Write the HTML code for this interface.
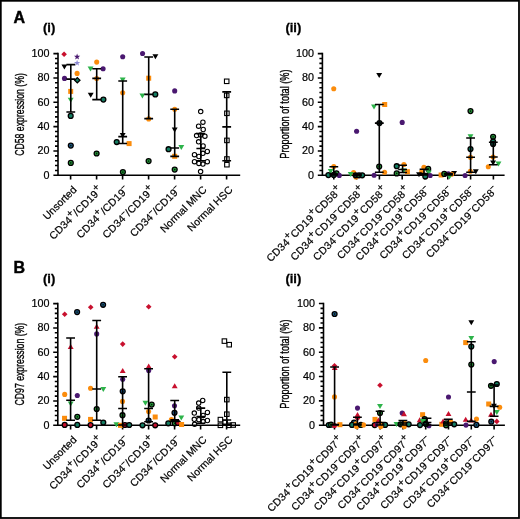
<!DOCTYPE html>
<html><head><meta charset="utf-8"><style>
html,body{margin:0;padding:0;background:#fff;}
svg{display:block;will-change:transform;font-family:"Liberation Sans",sans-serif;}
</style></head><body>
<svg width="520" height="519" viewBox="0 0 520 519" font-family="Liberation Sans, sans-serif">
<rect x="0" y="0" width="520" height="519" fill="#fff"/>
<rect x="0.8" y="0.8" width="518.2" height="517.2" fill="none" stroke="#000" stroke-width="1.8"/>

<text x="13.6" y="22.7" font-size="16" font-weight="bold" stroke="#000" stroke-width="0.45">A</text>
<text x="13.6" y="272.8" font-size="16" font-weight="bold" stroke="#000" stroke-width="0.45">B</text>
<text x="43" y="32.3" font-size="13" font-weight="bold" stroke="#000" stroke-width="0.3">(i)</text>
<text x="43" y="282.8" font-size="13" font-weight="bold" stroke="#000" stroke-width="0.3">(i)</text>
<text x="285.4" y="32.3" font-size="13" font-weight="bold" stroke="#000" stroke-width="0.3">(ii)</text>
<text x="285.4" y="282.8" font-size="13" font-weight="bold" stroke="#000" stroke-width="0.3">(ii)</text>
<path d="M58.00 52.80V175.30H240.20" fill="none" stroke="#000" stroke-width="1.6"/>
<path d="M53.40 175.30H58.00M55.00 170.43H58.00M55.00 165.56H58.00M55.00 160.70H58.00M55.00 155.83H58.00M53.40 150.96H58.00M55.00 146.09H58.00M55.00 141.22H58.00M55.00 136.36H58.00M55.00 131.49H58.00M53.40 126.62H58.00M55.00 121.75H58.00M55.00 116.88H58.00M55.00 112.02H58.00M55.00 107.15H58.00M53.40 102.28H58.00M55.00 97.41H58.00M55.00 92.54H58.00M55.00 87.68H58.00M55.00 82.81H58.00M53.40 77.94H58.00M55.00 73.07H58.00M55.00 68.20H58.00M55.00 63.34H58.00M55.00 58.47H58.00M53.40 53.60H58.00M70.60 175.30V179.60M96.60 175.30V179.60M122.60 175.30V179.60M148.60 175.30V179.60M174.60 175.30V179.60M200.60 175.30V179.60M226.60 175.30V179.60" fill="none" stroke="#000" stroke-width="1.6"/>
<text transform="translate(49.60 178.80) scale(1.08 1)" text-anchor="end" font-size="10" stroke="#000" stroke-width="0.2">0</text>
<text transform="translate(49.60 154.46) scale(1.08 1)" text-anchor="end" font-size="10" stroke="#000" stroke-width="0.2">20</text>
<text transform="translate(49.60 130.12) scale(1.08 1)" text-anchor="end" font-size="10" stroke="#000" stroke-width="0.2">40</text>
<text transform="translate(49.60 105.78) scale(1.08 1)" text-anchor="end" font-size="10" stroke="#000" stroke-width="0.2">60</text>
<text transform="translate(49.60 81.44) scale(1.08 1)" text-anchor="end" font-size="10" stroke="#000" stroke-width="0.2">80</text>
<text transform="translate(49.60 57.10) scale(1.08 1)" text-anchor="end" font-size="10" stroke="#000" stroke-width="0.2">100</text>
<path d="M322.40 52.80V175.30H504.60" fill="none" stroke="#000" stroke-width="1.6"/>
<path d="M317.80 175.30H322.40M319.40 170.43H322.40M319.40 165.56H322.40M319.40 160.70H322.40M319.40 155.83H322.40M317.80 150.96H322.40M319.40 146.09H322.40M319.40 141.22H322.40M319.40 136.36H322.40M319.40 131.49H322.40M317.80 126.62H322.40M319.40 121.75H322.40M319.40 116.88H322.40M319.40 112.02H322.40M319.40 107.15H322.40M317.80 102.28H322.40M319.40 97.41H322.40M319.40 92.54H322.40M319.40 87.68H322.40M319.40 82.81H322.40M317.80 77.94H322.40M319.40 73.07H322.40M319.40 68.20H322.40M319.40 63.34H322.40M319.40 58.47H322.40M317.80 53.60H322.40M333.80 175.30V179.60M356.60 175.30V179.60M379.40 175.30V179.60M402.20 175.30V179.60M425.00 175.30V179.60M447.80 175.30V179.60M470.60 175.30V179.60M493.40 175.30V179.60" fill="none" stroke="#000" stroke-width="1.6"/>
<text transform="translate(314.00 178.80) scale(1.08 1)" text-anchor="end" font-size="10" stroke="#000" stroke-width="0.2">0</text>
<text transform="translate(314.00 154.46) scale(1.08 1)" text-anchor="end" font-size="10" stroke="#000" stroke-width="0.2">20</text>
<text transform="translate(314.00 130.12) scale(1.08 1)" text-anchor="end" font-size="10" stroke="#000" stroke-width="0.2">40</text>
<text transform="translate(314.00 105.78) scale(1.08 1)" text-anchor="end" font-size="10" stroke="#000" stroke-width="0.2">60</text>
<text transform="translate(314.00 81.44) scale(1.08 1)" text-anchor="end" font-size="10" stroke="#000" stroke-width="0.2">80</text>
<text transform="translate(314.00 57.10) scale(1.08 1)" text-anchor="end" font-size="10" stroke="#000" stroke-width="0.2">100</text>
<path d="M57.80 302.80V425.30H240.20" fill="none" stroke="#000" stroke-width="1.6"/>
<path d="M53.20 425.30H57.80M54.80 420.43H57.80M54.80 415.56H57.80M54.80 410.70H57.80M54.80 405.83H57.80M53.20 400.96H57.80M54.80 396.09H57.80M54.80 391.22H57.80M54.80 386.36H57.80M54.80 381.49H57.80M53.20 376.62H57.80M54.80 371.75H57.80M54.80 366.88H57.80M54.80 362.02H57.80M54.80 357.15H57.80M53.20 352.28H57.80M54.80 347.41H57.80M54.80 342.54H57.80M54.80 337.68H57.80M54.80 332.81H57.80M53.20 327.94H57.80M54.80 323.07H57.80M54.80 318.20H57.80M54.80 313.34H57.80M54.80 308.47H57.80M53.20 303.60H57.80M70.60 425.30V429.60M96.60 425.30V429.60M122.60 425.30V429.60M148.60 425.30V429.60M174.60 425.30V429.60M200.60 425.30V429.60M226.60 425.30V429.60" fill="none" stroke="#000" stroke-width="1.6"/>
<text transform="translate(49.40 428.80) scale(1.08 1)" text-anchor="end" font-size="10" stroke="#000" stroke-width="0.2">0</text>
<text transform="translate(49.40 404.46) scale(1.08 1)" text-anchor="end" font-size="10" stroke="#000" stroke-width="0.2">20</text>
<text transform="translate(49.40 380.12) scale(1.08 1)" text-anchor="end" font-size="10" stroke="#000" stroke-width="0.2">40</text>
<text transform="translate(49.40 355.78) scale(1.08 1)" text-anchor="end" font-size="10" stroke="#000" stroke-width="0.2">60</text>
<text transform="translate(49.40 331.44) scale(1.08 1)" text-anchor="end" font-size="10" stroke="#000" stroke-width="0.2">80</text>
<text transform="translate(49.40 307.10) scale(1.08 1)" text-anchor="end" font-size="10" stroke="#000" stroke-width="0.2">100</text>
<path d="M323.50 302.70V425.20H504.90" fill="none" stroke="#000" stroke-width="1.6"/>
<path d="M318.90 425.20H323.50M320.50 420.33H323.50M320.50 415.46H323.50M320.50 410.60H323.50M320.50 405.73H323.50M318.90 400.86H323.50M320.50 395.99H323.50M320.50 391.12H323.50M320.50 386.26H323.50M320.50 381.39H323.50M318.90 376.52H323.50M320.50 371.65H323.50M320.50 366.78H323.50M320.50 361.92H323.50M320.50 357.05H323.50M318.90 352.18H323.50M320.50 347.31H323.50M320.50 342.44H323.50M320.50 337.58H323.50M320.50 332.71H323.50M318.90 327.84H323.50M320.50 322.97H323.50M320.50 318.10H323.50M320.50 313.24H323.50M320.50 308.37H323.50M318.90 303.50H323.50M334.50 425.20V429.50M357.30 425.20V429.50M380.10 425.20V429.50M402.90 425.20V429.50M425.70 425.20V429.50M448.50 425.20V429.50M471.30 425.20V429.50M494.10 425.20V429.50" fill="none" stroke="#000" stroke-width="1.6"/>
<text transform="translate(315.10 428.70) scale(1.08 1)" text-anchor="end" font-size="10" stroke="#000" stroke-width="0.2">0</text>
<text transform="translate(315.10 404.36) scale(1.08 1)" text-anchor="end" font-size="10" stroke="#000" stroke-width="0.2">20</text>
<text transform="translate(315.10 380.02) scale(1.08 1)" text-anchor="end" font-size="10" stroke="#000" stroke-width="0.2">40</text>
<text transform="translate(315.10 355.68) scale(1.08 1)" text-anchor="end" font-size="10" stroke="#000" stroke-width="0.2">60</text>
<text transform="translate(315.10 331.34) scale(1.08 1)" text-anchor="end" font-size="10" stroke="#000" stroke-width="0.2">80</text>
<text transform="translate(315.10 307.00) scale(1.08 1)" text-anchor="end" font-size="10" stroke="#000" stroke-width="0.2">100</text>
<text transform="translate(24.4 155.8) rotate(-90)" font-size="12.5" textLength="82.7" lengthAdjust="spacingAndGlyphs" stroke="#000" stroke-width="0.35">CD58 expression (%)</text>
<text transform="translate(24.4 405.5) rotate(-90)" font-size="12.5" textLength="82.7" lengthAdjust="spacingAndGlyphs" stroke="#000" stroke-width="0.35">CD97 expression (%)</text>
<text transform="translate(288.8 158.7) rotate(-90)" font-size="12.5" textLength="89.2" lengthAdjust="spacingAndGlyphs" stroke="#000" stroke-width="0.35">Proportion of total (%)</text>
<text transform="translate(288.8 408.7) rotate(-90)" font-size="12.5" textLength="89.2" lengthAdjust="spacingAndGlyphs" stroke="#000" stroke-width="0.35">Proportion of total (%)</text>
<polygon points="64.10,51.45 66.90,54.25 64.10,57.05 61.30,54.25" fill="#c8102e"/>
<polygon points="77.10,53.55 77.89,55.76 80.24,55.83 78.38,57.27 79.04,59.52 77.10,58.20 75.16,59.52 75.82,57.27 73.96,55.83 76.31,55.76" fill="#4a1870"/>
<polygon points="77.10,59.70 77.89,61.91 80.24,61.98 78.38,63.42 79.04,65.67 77.10,64.35 75.16,65.67 75.82,63.42 73.96,61.98 76.31,61.91" fill="#8c88d2"/>
<polygon points="61.45,64.60 67.35,64.60 64.40,69.60" fill="#000"/>
<circle cx="77.10" cy="73.40" r="2.55" fill="#fb8c0c"/>
<circle cx="64.50" cy="78.40" r="2.55" fill="#4a1870"/>
<polygon points="77.30,77.59 79.96,80.25 77.30,82.91 74.64,80.25" fill="#147d62" stroke="#000" stroke-width="1.3"/>
<rect x="68.20" y="88.90" width="5.00" height="5.00" fill="#fb8c0c"/>
<polygon points="67.75,97.80 73.65,97.80 70.70,102.80" fill="#2db34a"/>
<circle cx="70.70" cy="115.90" r="2.45" fill="#147d62" stroke="#000" stroke-width="1.3"/>
<circle cx="70.80" cy="145.60" r="2.45" fill="#1d5a92" stroke="#000" stroke-width="1.3"/><circle cx="70.80" cy="145.60" r="0.9" fill="#05200c"/>
<circle cx="70.80" cy="162.90" r="2.45" fill="#27a33c" stroke="#000" stroke-width="1.3"/><circle cx="70.80" cy="162.90" r="0.9" fill="#05200c"/>
<circle cx="96.70" cy="62.10" r="2.55" fill="#fb8c0c"/>
<polygon points="87.60,66.40 93.50,66.40 90.55,71.40" fill="#2db34a"/>
<circle cx="103.10" cy="68.80" r="2.55" fill="#4a1870"/>
<circle cx="96.70" cy="78.50" r="2.55" fill="#fb8c0c"/>
<polygon points="87.75,92.70 93.65,92.70 90.70,97.70" fill="#000"/>
<circle cx="103.40" cy="99.60" r="2.45" fill="#147d62" stroke="#000" stroke-width="1.3"/>
<circle cx="96.60" cy="153.50" r="2.45" fill="#27a33c" stroke="#000" stroke-width="1.3"/><circle cx="96.60" cy="153.50" r="0.9" fill="#05200c"/>
<circle cx="122.70" cy="56.80" r="2.55" fill="#4a1870"/>
<polygon points="119.75,77.60 125.65,77.60 122.70,82.60" fill="#2db34a"/>
<circle cx="122.70" cy="92.80" r="2.55" fill="#fb8c0c"/>
<polygon points="119.75,133.00 125.65,133.00 122.70,138.00" fill="#000"/>
<circle cx="116.70" cy="142.05" r="2.45" fill="#147d62" stroke="#000" stroke-width="1.3"/>
<rect x="126.60" y="141.10" width="5.00" height="5.00" fill="#fb8c0c"/>
<circle cx="122.90" cy="172.10" r="2.45" fill="#27a33c" stroke="#000" stroke-width="1.3"/><circle cx="122.90" cy="172.10" r="0.9" fill="#05200c"/>
<circle cx="142.55" cy="53.55" r="2.55" fill="#4a1870"/>
<polygon points="152.45,54.20 158.35,54.20 155.40,59.20" fill="#000"/>
<rect x="146.20" y="75.70" width="5.00" height="5.00" fill="#fb8c0c"/>
<polygon points="139.45,93.40 145.35,93.40 142.40,98.40" fill="#2db34a"/>
<circle cx="155.30" cy="94.40" r="2.45" fill="#147d62" stroke="#000" stroke-width="1.3"/>
<circle cx="148.70" cy="118.90" r="2.55" fill="#fb8c0c"/>
<circle cx="148.60" cy="161.10" r="2.45" fill="#27a33c" stroke="#000" stroke-width="1.3"/><circle cx="148.60" cy="161.10" r="0.9" fill="#05200c"/>
<circle cx="174.70" cy="90.90" r="2.55" fill="#4a1870"/>
<circle cx="174.70" cy="109.25" r="2.55" fill="#fb8c0c"/>
<polygon points="171.75,127.50 177.65,127.50 174.70,132.50" fill="#000"/>
<circle cx="168.55" cy="149.20" r="2.45" fill="#147d62" stroke="#000" stroke-width="1.3"/>
<polygon points="178.35,145.10 184.25,145.10 181.30,150.10" fill="#2db34a"/>
<rect x="172.20" y="153.80" width="5.00" height="5.00" fill="#fb8c0c"/>
<circle cx="174.70" cy="169.60" r="2.45" fill="#27a33c" stroke="#000" stroke-width="1.3"/><circle cx="174.70" cy="169.60" r="0.9" fill="#05200c"/>
<circle cx="200.70" cy="111.60" r="2.2" fill="none" stroke="#000" stroke-width="1.1"/>
<circle cx="202.90" cy="122.20" r="2.2" fill="none" stroke="#000" stroke-width="1.1"/>
<circle cx="198.60" cy="126.20" r="2.2" fill="none" stroke="#000" stroke-width="1.1"/>
<circle cx="203.20" cy="129.50" r="2.2" fill="none" stroke="#000" stroke-width="1.1"/>
<circle cx="196.60" cy="135.60" r="2.2" fill="none" stroke="#000" stroke-width="1.1"/>
<circle cx="200.60" cy="134.90" r="2.2" fill="none" stroke="#000" stroke-width="1.1"/>
<circle cx="204.90" cy="136.20" r="2.2" fill="none" stroke="#000" stroke-width="1.1"/>
<circle cx="198.60" cy="141.80" r="2.2" fill="none" stroke="#000" stroke-width="1.1"/>
<circle cx="203.10" cy="145.90" r="2.2" fill="none" stroke="#000" stroke-width="1.1"/>
<circle cx="207.30" cy="151.40" r="2.2" fill="none" stroke="#000" stroke-width="1.1"/>
<circle cx="202.90" cy="153.30" r="2.2" fill="none" stroke="#000" stroke-width="1.1"/>
<circle cx="194.50" cy="154.70" r="2.2" fill="none" stroke="#000" stroke-width="1.1"/>
<circle cx="198.90" cy="156.50" r="2.2" fill="none" stroke="#000" stroke-width="1.1"/>
<circle cx="194.50" cy="161.70" r="2.2" fill="none" stroke="#000" stroke-width="1.1"/>
<circle cx="198.90" cy="163.40" r="2.2" fill="none" stroke="#000" stroke-width="1.1"/>
<circle cx="202.90" cy="164.10" r="2.2" fill="none" stroke="#000" stroke-width="1.1"/>
<circle cx="207.30" cy="161.70" r="2.2" fill="none" stroke="#000" stroke-width="1.1"/>
<circle cx="200.60" cy="171.60" r="2.2" fill="none" stroke="#000" stroke-width="1.1"/>
<rect x="224.45" y="79.05" width="4.50" height="4.50" fill="none" stroke="#000" stroke-width="1.1"/>
<rect x="224.45" y="93.15" width="4.50" height="4.50" fill="none" stroke="#000" stroke-width="1.1"/>
<rect x="224.65" y="111.05" width="4.50" height="4.50" fill="none" stroke="#000" stroke-width="1.1"/>
<rect x="224.65" y="138.15" width="4.50" height="4.50" fill="none" stroke="#000" stroke-width="1.1"/>
<rect x="224.65" y="156.75" width="4.50" height="4.50" fill="none" stroke="#000" stroke-width="1.1"/>
<rect x="224.65" y="162.45" width="4.50" height="4.50" fill="none" stroke="#000" stroke-width="1.1"/>
<path d="M70.80 64.65V112.05M66.40 64.65H75.20M66.40 79.10H75.20M66.40 112.05H75.20M96.70 68.80V99.60M92.30 68.80H101.10M92.30 78.40H101.10M92.30 99.60H101.10M122.70 81.00V143.50M118.30 81.00H127.10M118.30 136.60H127.10M118.30 143.50H127.10M148.70 57.00V118.60M144.30 57.00H153.10M144.30 94.40H153.10M144.30 118.60H153.10M174.70 109.25V156.40M170.30 109.25H179.10M170.30 148.00H179.10M170.30 156.40H179.10M200.80 133.60V160.70M196.40 133.60H205.20M196.40 148.55H205.20M196.40 160.70H205.20M226.70 91.85V160.70M222.30 91.85H231.10M222.30 126.90H231.10M222.30 160.70H231.10" fill="none" stroke="#000" stroke-width="1.6"/>
<circle cx="333.75" cy="88.70" r="2.55" fill="#fb8c0c"/>
<circle cx="333.80" cy="166.50" r="2.55" fill="#fb8c0c"/>
<polygon points="327.75,168.90 333.65,168.90 330.70,173.90" fill="#2db34a"/>
<circle cx="336.50" cy="173.30" r="2.45" fill="#27a33c" stroke="#000" stroke-width="1.3"/><circle cx="336.50" cy="173.30" r="0.9" fill="#05200c"/>
<circle cx="328.40" cy="175.10" r="2.45" fill="#147d62" stroke="#000" stroke-width="1.3"/>
<circle cx="333.80" cy="174.90" r="2.45" fill="#0e4a3a" stroke="#000" stroke-width="1.3"/>
<circle cx="339.30" cy="175.40" r="2.55" fill="#4a1870"/>
<circle cx="356.60" cy="131.30" r="2.55" fill="#4a1870"/>
<circle cx="353.60" cy="172.60" r="2.55" fill="#fb8c0c"/>
<circle cx="355.90" cy="177.00" r="2.55" fill="#fb8c0c"/>
<polygon points="347.75,171.90 353.65,171.90 350.70,176.90" fill="#2db34a"/>
<circle cx="355.60" cy="175.30" r="2.45" fill="#0e4a3a" stroke="#000" stroke-width="1.3"/>
<circle cx="359.00" cy="175.30" r="2.45" fill="#27a33c" stroke="#000" stroke-width="1.3"/><circle cx="359.00" cy="175.30" r="0.9" fill="#05200c"/>
<circle cx="362.20" cy="175.30" r="2.45" fill="#147d62" stroke="#000" stroke-width="1.3"/>
<polygon points="376.25,73.10 382.15,73.10 379.20,78.10" fill="#000"/>
<polygon points="371.05,104.60 376.95,104.60 374.00,109.60" fill="#2db34a"/>
<rect x="382.20" y="102.00" width="5.00" height="5.00" fill="#fb8c0c"/>
<circle cx="379.45" cy="123.10" r="2.45" fill="#0e4a3a" stroke="#000" stroke-width="1.3"/>
<circle cx="379.20" cy="166.60" r="2.45" fill="#27a33c" stroke="#000" stroke-width="1.3"/><circle cx="379.20" cy="166.60" r="0.9" fill="#05200c"/>
<circle cx="384.60" cy="172.30" r="2.55" fill="#fb8c0c"/>
<circle cx="374.10" cy="175.20" r="2.55" fill="#4a1870"/>
<circle cx="402.20" cy="122.40" r="2.55" fill="#4a1870"/>
<circle cx="403.90" cy="164.50" r="2.55" fill="#fb8c0c"/>
<circle cx="396.70" cy="166.20" r="2.45" fill="#147d62" stroke="#000" stroke-width="1.3"/>
<circle cx="396.70" cy="173.40" r="2.45" fill="#27a33c" stroke="#000" stroke-width="1.3"/><circle cx="396.70" cy="173.40" r="0.9" fill="#05200c"/>
<rect x="404.90" y="169.20" width="5.00" height="5.00" fill="#fb8c0c"/>
<polygon points="400.65,168.40 406.55,168.40 403.60,173.40" fill="#2db34a"/>
<circle cx="423.90" cy="167.40" r="2.55" fill="#fb8c0c"/>
<circle cx="428.20" cy="168.90" r="2.45" fill="#27a33c" stroke="#000" stroke-width="1.3"/><circle cx="428.20" cy="168.90" r="0.9" fill="#05200c"/>
<rect x="419.30" y="170.10" width="5.00" height="5.00" fill="#fb8c0c"/>
<polygon points="416.05,172.30 421.95,172.30 419.00,177.30" fill="#000"/>
<polygon points="425.85,170.50 431.75,170.50 428.80,175.50" fill="#2db34a"/>
<circle cx="425.30" cy="176.40" r="2.45" fill="#147d62" stroke="#000" stroke-width="1.3"/>
<circle cx="430.20" cy="175.50" r="2.55" fill="#4a1870"/>
<rect x="438.60" y="172.50" width="5.00" height="5.00" fill="#fb8c0c"/>
<polygon points="451.15,170.90 457.05,170.90 454.10,175.90" fill="#000"/>
<circle cx="451.50" cy="174.20" r="2.55" fill="#fb8c0c"/>
<circle cx="448.30" cy="173.90" r="2.55" fill="#4a1870"/>
<circle cx="444.30" cy="173.90" r="2.45" fill="#27a33c" stroke="#000" stroke-width="1.3"/><circle cx="444.30" cy="173.90" r="0.9" fill="#05200c"/>
<polygon points="446.55,174.40 452.45,174.40 449.50,179.40" fill="#2db34a"/>
<circle cx="470.50" cy="111.10" r="2.45" fill="#27a33c" stroke="#000" stroke-width="1.3"/><circle cx="470.50" cy="111.10" r="0.9" fill="#05200c"/>
<polygon points="467.55,134.20 473.45,134.20 470.50,139.20" fill="#2db34a"/>
<circle cx="470.50" cy="149.10" r="2.45" fill="#147d62" stroke="#000" stroke-width="1.3"/>
<circle cx="470.50" cy="157.30" r="2.55" fill="#fb8c0c"/>
<circle cx="470.30" cy="171.20" r="2.55" fill="#fb8c0c"/>
<polygon points="472.85,169.20 478.75,169.20 475.80,174.20" fill="#000"/>
<circle cx="465.10" cy="175.50" r="2.55" fill="#4a1870"/>
<circle cx="493.10" cy="136.80" r="2.45" fill="#27a33c" stroke="#000" stroke-width="1.3"/><circle cx="493.10" cy="136.80" r="0.9" fill="#05200c"/>
<circle cx="493.10" cy="141.50" r="2.45" fill="#147d62" stroke="#000" stroke-width="1.3"/>
<circle cx="493.10" cy="144.00" r="2.45" fill="#0e4a3a" stroke="#000" stroke-width="1.3"/>
<circle cx="493.10" cy="157.00" r="2.55" fill="#fb8c0c"/>
<polygon points="490.15,160.60 496.05,160.60 493.10,165.60" fill="#000"/>
<polygon points="495.55,161.60 501.45,161.60 498.50,166.60" fill="#2db34a"/>
<circle cx="488.30" cy="166.80" r="2.55" fill="#fb8c0c"/>
<path d="M333.80 166.80V175.00M329.40 166.80H338.20M329.40 174.00H338.20M329.40 175.00H338.20M357.50 174.00V175.40M353.10 174.00H361.90M353.10 175.00H361.90M353.10 175.40H361.90M379.30 104.50V172.30M374.90 104.50H383.70M374.90 123.10H383.70M374.90 172.30H383.70M402.60 165.30V172.50M398.20 165.30H407.00M398.20 169.50H407.00M398.20 172.50H407.00M424.00 169.20V175.00M419.60 169.20H428.40M419.60 173.50H428.40M419.60 175.00H428.40M448.50 173.50V175.00M444.10 173.50H452.90M444.10 174.50H452.90M444.10 175.00H452.90M470.60 138.00V172.30M466.20 138.00H475.00M466.20 157.30H475.00M466.20 172.30H475.00M493.30 142.30V164.70M488.90 142.30H497.70M488.90 157.05H497.70M488.90 164.70H497.70" fill="none" stroke="#000" stroke-width="1.6"/>
<polygon points="64.70,311.40 67.50,314.20 64.70,317.00 61.90,314.20" fill="#c8102e"/>
<circle cx="77.10" cy="312.10" r="2.45" fill="#1d5a92" stroke="#000" stroke-width="1.3"/><circle cx="77.10" cy="312.10" r="0.9" fill="#05200c"/>
<polygon points="67.75,349.10 73.65,349.10 70.70,344.10" fill="#c8102e"/>
<circle cx="64.70" cy="394.40" r="2.55" fill="#fb8c0c"/>
<circle cx="77.30" cy="395.50" r="2.55" fill="#4a1870"/>
<polygon points="67.75,401.40 73.65,401.40 70.70,406.40" fill="#2db34a"/>
<circle cx="77.30" cy="416.85" r="2.45" fill="#27a33c" stroke="#000" stroke-width="1.3"/><circle cx="77.30" cy="416.85" r="0.9" fill="#05200c"/>
<rect x="62.05" y="415.80" width="5.00" height="5.00" fill="#fb8c0c"/>
<circle cx="64.70" cy="424.90" r="2.45" fill="#c8102e" stroke="#000" stroke-width="1.3"/>
<circle cx="77.30" cy="424.90" r="2.45" fill="#147d62" stroke="#000" stroke-width="1.3"/>
<polygon points="90.70,304.50 93.50,307.30 90.70,310.10 87.90,307.30" fill="#c8102e"/>
<circle cx="103.10" cy="304.80" r="2.45" fill="#1d5a92" stroke="#000" stroke-width="1.3"/><circle cx="103.10" cy="304.80" r="0.9" fill="#05200c"/>
<polygon points="93.75,328.80 99.65,328.80 96.70,323.80" fill="#c8102e"/>
<circle cx="96.70" cy="333.90" r="2.55" fill="#4a1870"/>
<circle cx="90.55" cy="388.20" r="2.55" fill="#fb8c0c"/>
<polygon points="100.35,387.00 106.25,387.00 103.30,392.00" fill="#2db34a"/>
<circle cx="96.70" cy="409.00" r="2.45" fill="#27a33c" stroke="#000" stroke-width="1.3"/><circle cx="96.70" cy="409.00" r="0.9" fill="#05200c"/>
<rect x="88.05" y="416.90" width="5.00" height="5.00" fill="#fb8c0c"/>
<circle cx="103.30" cy="422.50" r="2.45" fill="#147d62" stroke="#000" stroke-width="1.3"/>
<circle cx="90.55" cy="425.10" r="2.45" fill="#c8102e" stroke="#000" stroke-width="1.3"/>
<polygon points="122.70,341.30 125.50,344.10 122.70,346.90 119.90,344.10" fill="#c8102e"/>
<polygon points="119.75,373.10 125.65,373.10 122.70,368.10" fill="#c8102e"/>
<circle cx="122.70" cy="379.20" r="2.55" fill="#4a1870"/>
<circle cx="122.70" cy="391.30" r="2.45" fill="#1d5a92" stroke="#000" stroke-width="1.3"/><circle cx="122.70" cy="391.30" r="0.9" fill="#05200c"/>
<circle cx="122.50" cy="401.40" r="2.55" fill="#fb8c0c"/>
<circle cx="122.50" cy="415.20" r="2.45" fill="#27a33c" stroke="#000" stroke-width="1.3"/><circle cx="122.50" cy="415.20" r="0.9" fill="#05200c"/>
<polygon points="113.45,422.30 119.35,422.30 116.40,427.30" fill="#2db34a"/>
<rect x="118.00" y="422.80" width="5.00" height="5.00" fill="#fb8c0c"/>
<circle cx="124.90" cy="425.00" r="2.45" fill="#c8102e" stroke="#000" stroke-width="1.3"/>
<circle cx="129.20" cy="425.00" r="2.45" fill="#147d62" stroke="#000" stroke-width="1.3"/>
<polygon points="148.70,303.90 151.50,306.70 148.70,309.50 145.90,306.70" fill="#c8102e"/>
<polygon points="145.75,368.40 151.65,368.40 148.70,363.40" fill="#c8102e"/>
<circle cx="148.70" cy="370.40" r="2.55" fill="#4a1870"/>
<polygon points="142.45,400.70 148.35,400.70 145.40,405.70" fill="#2db34a"/>
<circle cx="151.70" cy="404.60" r="2.45" fill="#27a33c" stroke="#000" stroke-width="1.3"/><circle cx="151.70" cy="404.60" r="0.9" fill="#05200c"/>
<circle cx="148.60" cy="411.60" r="2.55" fill="#fb8c0c"/>
<rect x="152.70" y="414.50" width="5.00" height="5.00" fill="#fb8c0c"/>
<circle cx="148.60" cy="420.50" r="2.45" fill="#1d5a92" stroke="#000" stroke-width="1.3"/><circle cx="148.60" cy="420.50" r="0.9" fill="#05200c"/>
<circle cx="142.50" cy="425.30" r="2.45" fill="#147d62" stroke="#000" stroke-width="1.3"/>
<circle cx="155.20" cy="425.30" r="2.45" fill="#c8102e" stroke="#000" stroke-width="1.3"/>
<polygon points="174.70,353.90 177.50,356.70 174.70,359.50 171.90,356.70" fill="#c8102e"/>
<polygon points="171.75,388.30 177.65,388.30 174.70,383.30" fill="#c8102e"/>
<circle cx="174.50" cy="405.70" r="2.55" fill="#4a1870"/>
<circle cx="174.50" cy="412.80" r="2.45" fill="#1d5a92" stroke="#000" stroke-width="1.3"/><circle cx="174.50" cy="412.80" r="0.9" fill="#05200c"/>
<polygon points="178.35,415.60 184.25,415.60 181.30,420.60" fill="#2db34a"/>
<circle cx="171.40" cy="419.60" r="2.55" fill="#fb8c0c"/>
<circle cx="168.30" cy="423.30" r="2.45" fill="#147d62" stroke="#000" stroke-width="1.3"/>
<circle cx="174.80" cy="423.30" r="2.45" fill="#27a33c" stroke="#000" stroke-width="1.3"/><circle cx="174.80" cy="423.30" r="0.9" fill="#05200c"/>
<circle cx="177.90" cy="423.00" r="2.45" fill="#c8102e" stroke="#000" stroke-width="1.3"/>
<rect x="179.10" y="422.00" width="5.00" height="5.00" fill="#fb8c0c"/>
<circle cx="202.70" cy="400.40" r="2.2" fill="none" stroke="#000" stroke-width="1.1"/>
<circle cx="198.70" cy="403.10" r="2.2" fill="none" stroke="#000" stroke-width="1.1"/>
<circle cx="198.70" cy="408.10" r="2.2" fill="none" stroke="#000" stroke-width="1.1"/>
<circle cx="194.30" cy="413.10" r="2.2" fill="none" stroke="#000" stroke-width="1.1"/>
<circle cx="207.40" cy="412.40" r="2.2" fill="none" stroke="#000" stroke-width="1.1"/>
<circle cx="203.10" cy="415.40" r="2.2" fill="none" stroke="#000" stroke-width="1.1"/>
<circle cx="194.30" cy="419.30" r="2.2" fill="none" stroke="#000" stroke-width="1.1"/>
<circle cx="198.90" cy="419.70" r="2.2" fill="none" stroke="#000" stroke-width="1.1"/>
<circle cx="203.10" cy="421.60" r="2.2" fill="none" stroke="#000" stroke-width="1.1"/>
<circle cx="207.40" cy="420.50" r="2.2" fill="none" stroke="#000" stroke-width="1.1"/>
<circle cx="194.60" cy="424.30" r="2.2" fill="none" stroke="#000" stroke-width="1.1"/>
<rect x="222.15" y="338.85" width="4.50" height="4.50" fill="none" stroke="#000" stroke-width="1.1"/>
<rect x="226.95" y="342.45" width="4.50" height="4.50" fill="none" stroke="#000" stroke-width="1.1"/>
<rect x="224.55" y="397.35" width="4.50" height="4.50" fill="none" stroke="#000" stroke-width="1.1"/>
<rect x="224.55" y="411.95" width="4.50" height="4.50" fill="none" stroke="#000" stroke-width="1.1"/>
<rect x="218.15" y="417.35" width="4.50" height="4.50" fill="none" stroke="#000" stroke-width="1.1"/>
<rect x="218.15" y="423.05" width="4.50" height="4.50" fill="none" stroke="#000" stroke-width="1.1"/>
<rect x="222.85" y="420.35" width="4.50" height="4.50" fill="none" stroke="#000" stroke-width="1.1"/>
<rect x="226.65" y="423.05" width="4.50" height="4.50" fill="none" stroke="#000" stroke-width="1.1"/>
<rect x="230.95" y="422.75" width="4.50" height="4.50" fill="none" stroke="#000" stroke-width="1.1"/>
<path d="M70.60 338.00V420.30M66.20 338.00H75.00M66.20 400.30H75.00M66.20 420.30H75.00M96.70 320.50V420.20M92.30 320.50H101.10M92.30 389.00H101.10M92.30 420.20H101.10M122.60 376.80V425.00M118.20 376.80H127.00M118.20 408.50H127.00M118.20 425.00H127.00M148.60 368.80V421.80M144.20 368.80H153.00M144.20 408.50H153.00M144.20 421.80H153.00M174.70 400.50V421.40M170.30 400.50H179.10M170.30 419.90H179.10M170.30 421.40H179.10M200.80 408.10V423.20M196.40 408.10H205.20M196.40 416.60H205.20M196.40 423.20H205.20M226.80 372.20V424.20M222.40 372.20H231.20M222.40 420.00H231.20M222.40 424.20H231.20" fill="none" stroke="#000" stroke-width="1.6"/>
<circle cx="334.60" cy="314.00" r="2.45" fill="#1d5a92" stroke="#000" stroke-width="1.3"/><circle cx="334.60" cy="314.00" r="0.9" fill="#05200c"/>
<polygon points="334.50,363.00 337.30,365.80 334.50,368.60 331.70,365.80" fill="#c8102e"/>
<polygon points="331.75,369.90 337.65,369.90 334.70,364.90" fill="#c8102e"/>
<circle cx="334.50" cy="396.90" r="2.55" fill="#fb8c0c"/>
<circle cx="328.80" cy="425.00" r="2.45" fill="#147d62" stroke="#000" stroke-width="1.3"/>
<circle cx="331.10" cy="424.70" r="2.45" fill="#27a33c" stroke="#000" stroke-width="1.3"/><circle cx="331.10" cy="424.70" r="0.9" fill="#05200c"/>
<circle cx="334.50" cy="425.50" r="2.55" fill="#c8102e"/>
<rect x="337.40" y="422.20" width="5.00" height="5.00" fill="#fb8c0c"/>
<circle cx="357.50" cy="408.10" r="2.55" fill="#4a1870"/>
<polygon points="354.55,416.90 360.45,416.90 357.50,411.90" fill="#c8102e"/>
<polygon points="357.50,415.70 360.30,418.50 357.50,421.30 354.70,418.50" fill="#c8102e"/>
<circle cx="354.00" cy="422.50" r="2.45" fill="#1d5a92" stroke="#000" stroke-width="1.3"/><circle cx="354.00" cy="422.50" r="0.9" fill="#05200c"/>
<circle cx="352.00" cy="424.90" r="2.45" fill="#147d62" stroke="#000" stroke-width="1.3"/>
<circle cx="356.00" cy="423.70" r="2.55" fill="#fb8c0c"/>
<circle cx="356.60" cy="426.60" r="2.55" fill="#fb8c0c"/>
<circle cx="360.90" cy="424.90" r="2.45" fill="#27a33c" stroke="#000" stroke-width="1.3"/><circle cx="360.90" cy="424.90" r="0.9" fill="#05200c"/>
<circle cx="363.50" cy="424.90" r="2.55" fill="#fb8c0c"/>
<polygon points="380.00,382.50 382.80,385.30 380.00,388.10 377.20,385.30" fill="#c8102e"/>
<polygon points="377.05,403.90 382.95,403.90 380.00,408.90" fill="#2db34a"/>
<circle cx="380.00" cy="413.00" r="2.45" fill="#27a33c" stroke="#000" stroke-width="1.3"/><circle cx="380.00" cy="413.00" r="0.9" fill="#05200c"/>
<rect x="372.50" y="416.90" width="5.00" height="5.00" fill="#fb8c0c"/>
<polygon points="375.45,422.40 381.35,422.40 378.40,417.40" fill="#c8102e"/>
<circle cx="374.70" cy="425.10" r="2.45" fill="#c8102e" stroke="#000" stroke-width="1.3"/>
<circle cx="377.60" cy="424.30" r="2.55" fill="#4a1870"/>
<circle cx="381.00" cy="424.00" r="2.55" fill="#fb8c0c"/>
<circle cx="385.10" cy="424.90" r="2.45" fill="#147d62" stroke="#000" stroke-width="1.3"/>
<circle cx="380.70" cy="426.60" r="2.55" fill="#fb8c0c"/>
<circle cx="402.20" cy="413.00" r="2.55" fill="#4a1870"/>
<polygon points="401.05,416.20 406.95,416.20 404.00,411.20" fill="#c8102e"/>
<polygon points="393.55,421.90 399.45,421.90 396.50,426.90" fill="#2db34a"/>
<circle cx="400.60" cy="424.30" r="2.45" fill="#27a33c" stroke="#000" stroke-width="1.3"/><circle cx="400.60" cy="424.30" r="0.9" fill="#05200c"/>
<circle cx="404.60" cy="423.10" r="2.55" fill="#fb8c0c"/>
<circle cx="404.30" cy="426.60" r="2.55" fill="#fb8c0c"/>
<circle cx="408.70" cy="424.30" r="2.45" fill="#147d62" stroke="#000" stroke-width="1.3"/>
<circle cx="425.70" cy="360.50" r="2.55" fill="#fb8c0c"/>
<rect x="420.10" y="412.20" width="5.00" height="5.00" fill="#fb8c0c"/>
<polygon points="416.75,422.30 422.65,422.30 419.70,417.30" fill="#c8102e"/>
<circle cx="424.60" cy="419.10" r="2.45" fill="#27a33c" stroke="#000" stroke-width="1.3"/><circle cx="424.60" cy="419.10" r="0.9" fill="#05200c"/>
<polygon points="419.65,419.00 425.55,419.00 422.60,424.00" fill="#2db34a"/>
<circle cx="420.00" cy="425.10" r="2.45" fill="#147d62" stroke="#000" stroke-width="1.3"/>
<circle cx="428.90" cy="425.70" r="2.55" fill="#4a1870"/>
<circle cx="426.00" cy="424.00" r="2.45" fill="#0e4a3a" stroke="#000" stroke-width="1.3"/>
<circle cx="448.50" cy="397.00" r="2.55" fill="#4a1870"/>
<polygon points="445.55,415.90 451.45,415.90 448.50,410.90" fill="#c8102e"/>
<rect x="439.30" y="421.80" width="5.00" height="5.00" fill="#fb8c0c"/>
<polygon points="440.15,423.40 446.05,423.40 443.10,418.40" fill="#c8102e"/>
<circle cx="446.10" cy="423.30" r="2.45" fill="#27a33c" stroke="#000" stroke-width="1.3"/><circle cx="446.10" cy="423.30" r="0.9" fill="#05200c"/>
<circle cx="446.10" cy="425.30" r="2.45" fill="#27a33c" stroke="#000" stroke-width="1.3"/><circle cx="446.10" cy="425.30" r="0.9" fill="#05200c"/>
<circle cx="450.90" cy="422.00" r="2.55" fill="#fb8c0c"/>
<circle cx="454.20" cy="424.30" r="2.45" fill="#147d62" stroke="#000" stroke-width="1.3"/>
<polygon points="468.35,320.30 474.25,320.30 471.30,325.30" fill="#000"/>
<polygon points="468.35,335.90 474.25,335.90 471.30,340.90" fill="#2db34a"/>
<rect x="463.20" y="340.10" width="5.00" height="5.00" fill="#fb8c0c"/>
<circle cx="471.30" cy="346.60" r="2.45" fill="#147d62" stroke="#000" stroke-width="1.3"/>
<circle cx="471.30" cy="364.60" r="2.45" fill="#27a33c" stroke="#000" stroke-width="1.3"/><circle cx="471.30" cy="364.60" r="0.9" fill="#05200c"/>
<polygon points="462.75,421.70 468.65,421.70 465.70,416.70" fill="#c8102e"/>
<polygon points="468.25,422.50 474.15,422.50 471.20,417.50" fill="#c8102e"/>
<circle cx="476.50" cy="419.10" r="2.55" fill="#fb8c0c"/>
<circle cx="466.00" cy="425.10" r="2.55" fill="#4a1870"/>
<circle cx="476.40" cy="424.90" r="2.45" fill="#1d5a92" stroke="#000" stroke-width="1.3"/><circle cx="476.40" cy="424.90" r="0.9" fill="#05200c"/>
<circle cx="494.20" cy="361.60" r="2.55" fill="#4a1870"/>
<circle cx="491.00" cy="385.80" r="2.45" fill="#27a33c" stroke="#000" stroke-width="1.3"/><circle cx="491.00" cy="385.80" r="0.9" fill="#05200c"/>
<circle cx="496.80" cy="384.00" r="2.45" fill="#147d62" stroke="#000" stroke-width="1.3"/>
<rect x="486.20" y="401.50" width="5.00" height="5.00" fill="#fb8c0c"/>
<polygon points="490.95,403.70 496.85,403.70 493.90,408.70" fill="#000"/>
<circle cx="499.70" cy="407.20" r="2.55" fill="#fb8c0c"/>
<polygon points="493.85,409.90 499.75,409.90 496.80,414.90" fill="#2db34a"/>
<polygon points="488.05,416.80 493.95,416.80 491.00,411.80" fill="#c8102e"/>
<circle cx="491.30" cy="421.70" r="2.45" fill="#1d5a92" stroke="#000" stroke-width="1.3"/><circle cx="491.30" cy="421.70" r="0.9" fill="#05200c"/>
<polygon points="496.80,418.60 499.60,421.40 496.80,424.20 494.00,421.40" fill="#c8102e"/>
<path d="M334.60 367.00V425.00M330.20 367.00H339.00M330.20 424.50H339.00M330.20 425.00H339.00M357.40 417.20V425.00M353.00 417.20H361.80M353.00 424.00H361.80M353.00 425.00H361.80M380.10 411.30V425.00M375.70 411.30H384.50M375.70 422.50H384.50M375.70 425.00H384.50M402.90 420.50V425.00M398.50 420.50H407.30M398.50 423.00H407.30M398.50 425.00H407.30M427.00 418.20V425.00M422.60 418.20H431.40M422.60 422.50H431.40M422.60 425.00H431.40M448.30 419.30V425.00M443.90 419.30H452.70M443.90 423.00H452.70M443.90 425.00H452.70M471.30 341.80V421.40M466.90 341.80H475.70M466.90 392.00H475.70M466.90 421.40H475.70M494.10 385.00V416.20M489.70 385.00H498.50M489.70 406.40H498.50M489.70 416.20H498.50" fill="none" stroke="#000" stroke-width="1.6"/>
<text transform="translate(77.30 190.40) rotate(-45)" text-anchor="end" font-size="10.5" stroke="#000" stroke-width="0.2"><tspan>Unsorted</tspan></text>
<text transform="translate(77.30 440.40) rotate(-45)" text-anchor="end" font-size="10.5" stroke="#000" stroke-width="0.2"><tspan>Unsorted</tspan></text>
<text transform="translate(103.30 190.40) rotate(-45)" text-anchor="end" font-size="10.5" letter-spacing="0.2" stroke="#000" stroke-width="0.2"><tspan>CD34</tspan><tspan dy="-4.3" font-size="10" stroke-width="0.2">+</tspan><tspan dy="4.3">/CD19</tspan><tspan dy="-4.3" font-size="10" stroke-width="0.2">+</tspan></text>
<text transform="translate(103.30 440.40) rotate(-45)" text-anchor="end" font-size="10.5" letter-spacing="0.2" stroke="#000" stroke-width="0.2"><tspan>CD34</tspan><tspan dy="-4.3" font-size="10" stroke-width="0.2">+</tspan><tspan dy="4.3">/CD19</tspan><tspan dy="-4.3" font-size="10" stroke-width="0.2">+</tspan></text>
<text transform="translate(129.30 190.40) rotate(-45)" text-anchor="end" font-size="10.5" letter-spacing="0.2" stroke="#000" stroke-width="0.2"><tspan>CD34</tspan><tspan dy="-4.3" font-size="10" stroke-width="0.2">+</tspan><tspan dy="4.3">/CD19</tspan><tspan dy="-5.0" font-size="7.0">–</tspan></text>
<text transform="translate(129.30 440.40) rotate(-45)" text-anchor="end" font-size="10.5" letter-spacing="0.2" stroke="#000" stroke-width="0.2"><tspan>CD34</tspan><tspan dy="-4.3" font-size="10" stroke-width="0.2">+</tspan><tspan dy="4.3">/CD19</tspan><tspan dy="-5.0" font-size="7.0">–</tspan></text>
<text transform="translate(155.30 190.40) rotate(-45)" text-anchor="end" font-size="10.5" letter-spacing="0.2" stroke="#000" stroke-width="0.2"><tspan>CD34</tspan><tspan dy="-5.0" font-size="7.0">–</tspan><tspan dy="5.0">/CD19</tspan><tspan dy="-4.3" font-size="10" stroke-width="0.2">+</tspan></text>
<text transform="translate(155.30 440.40) rotate(-45)" text-anchor="end" font-size="10.5" letter-spacing="0.2" stroke="#000" stroke-width="0.2"><tspan>CD34</tspan><tspan dy="-5.0" font-size="7.0">–</tspan><tspan dy="5.0">/CD19</tspan><tspan dy="-4.3" font-size="10" stroke-width="0.2">+</tspan></text>
<text transform="translate(181.30 190.40) rotate(-45)" text-anchor="end" font-size="10.5" letter-spacing="0.2" stroke="#000" stroke-width="0.2"><tspan>CD34</tspan><tspan dy="-5.0" font-size="7.0">–</tspan><tspan dy="5.0">/CD19</tspan><tspan dy="-5.0" font-size="7.0">–</tspan></text>
<text transform="translate(181.30 440.40) rotate(-45)" text-anchor="end" font-size="10.5" letter-spacing="0.2" stroke="#000" stroke-width="0.2"><tspan>CD34</tspan><tspan dy="-5.0" font-size="7.0">–</tspan><tspan dy="5.0">/CD19</tspan><tspan dy="-5.0" font-size="7.0">–</tspan></text>
<text transform="translate(207.30 190.40) rotate(-45)" text-anchor="end" font-size="10.5" stroke="#000" stroke-width="0.2"><tspan>Normal MNC</tspan></text>
<text transform="translate(207.30 440.40) rotate(-45)" text-anchor="end" font-size="10.5" stroke="#000" stroke-width="0.2"><tspan>Normal MNC</tspan></text>
<text transform="translate(233.30 190.40) rotate(-45)" text-anchor="end" font-size="10.5" stroke="#000" stroke-width="0.2"><tspan>Normal HSC</tspan></text>
<text transform="translate(233.30 440.40) rotate(-45)" text-anchor="end" font-size="10.5" stroke="#000" stroke-width="0.2"><tspan>Normal HSC</tspan></text>
<text transform="translate(342.80 190.50) rotate(-45)" text-anchor="end" font-size="10.5" letter-spacing="0.25" stroke="#000" stroke-width="0.2"><tspan>CD34</tspan><tspan dy="-4.3" font-size="10" stroke-width="0.2">+</tspan><tspan dy="4.3">CD19</tspan><tspan dy="-4.3" font-size="10" stroke-width="0.2">+</tspan><tspan dy="4.3">CD58</tspan><tspan dy="-4.3" font-size="10" stroke-width="0.2">+</tspan></text>
<text transform="translate(343.50 440.50) rotate(-45)" text-anchor="end" font-size="10.5" letter-spacing="0.25" stroke="#000" stroke-width="0.2"><tspan>CD34</tspan><tspan dy="-4.3" font-size="10" stroke-width="0.2">+</tspan><tspan dy="4.3">CD19</tspan><tspan dy="-4.3" font-size="10" stroke-width="0.2">+</tspan><tspan dy="4.3">CD97</tspan><tspan dy="-4.3" font-size="10" stroke-width="0.2">+</tspan></text>
<text transform="translate(365.35 190.50) rotate(-45)" text-anchor="end" font-size="10.5" letter-spacing="0.25" stroke="#000" stroke-width="0.2"><tspan>CD34</tspan><tspan dy="-4.3" font-size="10" stroke-width="0.2">+</tspan><tspan dy="4.3">CD19</tspan><tspan dy="-5.0" font-size="7.0">–</tspan><tspan dy="5.0">CD58</tspan><tspan dy="-4.3" font-size="10" stroke-width="0.2">+</tspan></text>
<text transform="translate(366.05 440.50) rotate(-45)" text-anchor="end" font-size="10.5" letter-spacing="0.25" stroke="#000" stroke-width="0.2"><tspan>CD34</tspan><tspan dy="-4.3" font-size="10" stroke-width="0.2">+</tspan><tspan dy="4.3">CD19</tspan><tspan dy="-5.0" font-size="7.0">–</tspan><tspan dy="5.0">CD97</tspan><tspan dy="-4.3" font-size="10" stroke-width="0.2">+</tspan></text>
<text transform="translate(387.90 190.50) rotate(-45)" text-anchor="end" font-size="10.5" letter-spacing="0.25" stroke="#000" stroke-width="0.2"><tspan>CD34</tspan><tspan dy="-5.0" font-size="7.0">–</tspan><tspan dy="5.0">CD19</tspan><tspan dy="-4.3" font-size="10" stroke-width="0.2">+</tspan><tspan dy="4.3">CD58</tspan><tspan dy="-4.3" font-size="10" stroke-width="0.2">+</tspan></text>
<text transform="translate(388.60 440.50) rotate(-45)" text-anchor="end" font-size="10.5" letter-spacing="0.25" stroke="#000" stroke-width="0.2"><tspan>CD34</tspan><tspan dy="-5.0" font-size="7.0">–</tspan><tspan dy="5.0">CD19</tspan><tspan dy="-4.3" font-size="10" stroke-width="0.2">+</tspan><tspan dy="4.3">CD97</tspan><tspan dy="-4.3" font-size="10" stroke-width="0.2">+</tspan></text>
<text transform="translate(410.45 190.50) rotate(-45)" text-anchor="end" font-size="10.5" letter-spacing="0.25" stroke="#000" stroke-width="0.2"><tspan>CD34</tspan><tspan dy="-5.0" font-size="7.0">–</tspan><tspan dy="5.0">CD19</tspan><tspan dy="-5.0" font-size="7.0">–</tspan><tspan dy="5.0">CD58</tspan><tspan dy="-4.3" font-size="10" stroke-width="0.2">+</tspan></text>
<text transform="translate(411.15 440.50) rotate(-45)" text-anchor="end" font-size="10.5" letter-spacing="0.25" stroke="#000" stroke-width="0.2"><tspan>CD34</tspan><tspan dy="-5.0" font-size="7.0">–</tspan><tspan dy="5.0">CD19</tspan><tspan dy="-5.0" font-size="7.0">–</tspan><tspan dy="5.0">CD97</tspan><tspan dy="-4.3" font-size="10" stroke-width="0.2">+</tspan></text>
<text transform="translate(430.50 190.50) rotate(-45)" text-anchor="end" font-size="10.5" letter-spacing="0.25" stroke="#000" stroke-width="0.2"><tspan>CD34</tspan><tspan dy="-4.3" font-size="10" stroke-width="0.2">+</tspan><tspan dy="4.3">CD19</tspan><tspan dy="-4.3" font-size="10" stroke-width="0.2">+</tspan><tspan dy="4.3">CD58</tspan><tspan dy="-5.0" font-size="7.0">–</tspan></text>
<text transform="translate(431.20 440.50) rotate(-45)" text-anchor="end" font-size="10.5" letter-spacing="0.25" stroke="#000" stroke-width="0.2"><tspan>CD34</tspan><tspan dy="-4.3" font-size="10" stroke-width="0.2">+</tspan><tspan dy="4.3">CD19</tspan><tspan dy="-4.3" font-size="10" stroke-width="0.2">+</tspan><tspan dy="4.3">CD97</tspan><tspan dy="-5.0" font-size="7.0">–</tspan></text>
<text transform="translate(453.05 190.50) rotate(-45)" text-anchor="end" font-size="10.5" letter-spacing="0.25" stroke="#000" stroke-width="0.2"><tspan>CD34</tspan><tspan dy="-4.3" font-size="10" stroke-width="0.2">+</tspan><tspan dy="4.3">CD19</tspan><tspan dy="-5.0" font-size="7.0">–</tspan><tspan dy="5.0">CD58</tspan><tspan dy="-5.0" font-size="7.0">–</tspan></text>
<text transform="translate(453.75 440.50) rotate(-45)" text-anchor="end" font-size="10.5" letter-spacing="0.25" stroke="#000" stroke-width="0.2"><tspan>CD34</tspan><tspan dy="-4.3" font-size="10" stroke-width="0.2">+</tspan><tspan dy="4.3">CD19</tspan><tspan dy="-5.0" font-size="7.0">–</tspan><tspan dy="5.0">CD97</tspan><tspan dy="-5.0" font-size="7.0">–</tspan></text>
<text transform="translate(475.60 190.50) rotate(-45)" text-anchor="end" font-size="10.5" letter-spacing="0.25" stroke="#000" stroke-width="0.2"><tspan>CD34</tspan><tspan dy="-5.0" font-size="7.0">–</tspan><tspan dy="5.0">CD19</tspan><tspan dy="-4.3" font-size="10" stroke-width="0.2">+</tspan><tspan dy="4.3">CD58</tspan><tspan dy="-5.0" font-size="7.0">–</tspan></text>
<text transform="translate(476.30 440.50) rotate(-45)" text-anchor="end" font-size="10.5" letter-spacing="0.25" stroke="#000" stroke-width="0.2"><tspan>CD34</tspan><tspan dy="-5.0" font-size="7.0">–</tspan><tspan dy="5.0">CD19</tspan><tspan dy="-4.3" font-size="10" stroke-width="0.2">+</tspan><tspan dy="4.3">CD97</tspan><tspan dy="-5.0" font-size="7.0">–</tspan></text>
<text transform="translate(498.15 190.50) rotate(-45)" text-anchor="end" font-size="10.5" letter-spacing="0.25" stroke="#000" stroke-width="0.2"><tspan>CD34</tspan><tspan dy="-5.0" font-size="7.0">–</tspan><tspan dy="5.0">CD19</tspan><tspan dy="-5.0" font-size="7.0">–</tspan><tspan dy="5.0">CD58</tspan><tspan dy="-5.0" font-size="7.0">–</tspan></text>
<text transform="translate(498.85 440.50) rotate(-45)" text-anchor="end" font-size="10.5" letter-spacing="0.25" stroke="#000" stroke-width="0.2"><tspan>CD34</tspan><tspan dy="-5.0" font-size="7.0">–</tspan><tspan dy="5.0">CD19</tspan><tspan dy="-5.0" font-size="7.0">–</tspan><tspan dy="5.0">CD97</tspan><tspan dy="-5.0" font-size="7.0">–</tspan></text>
</svg></body></html>
